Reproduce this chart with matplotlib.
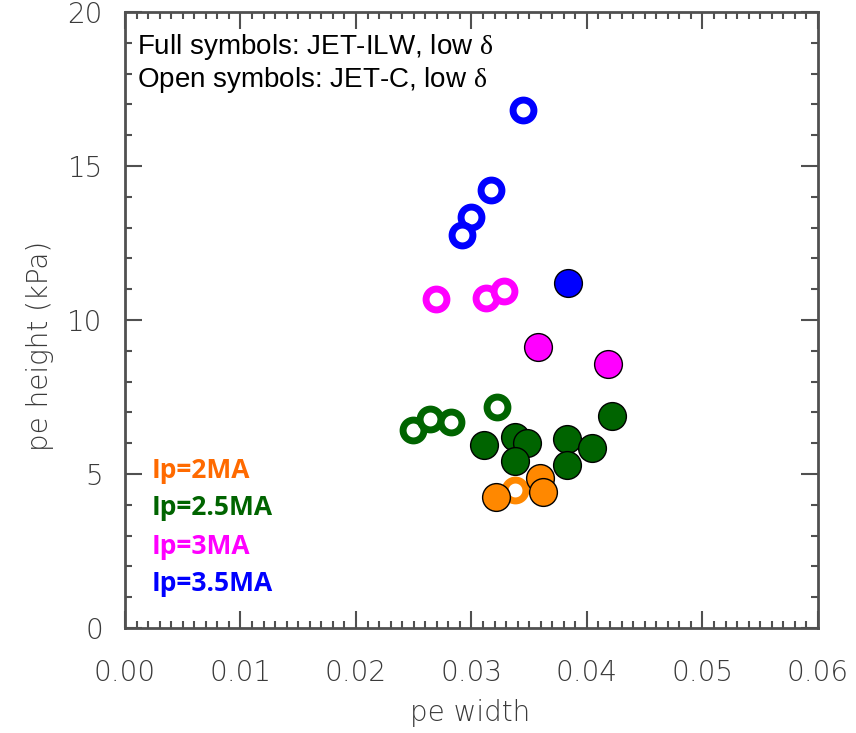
import numpy as np
import matplotlib.pyplot as plt
from matplotlib import rcParams
from matplotlib.ticker import MultipleLocator, FormatStrFormatter

rcParams["mathtext.fontset"] = "custom"
rcParams["mathtext.rm"] = "Liberation Serif"

# pedestal width / height, JET-ILW (full) and JET-C (open)
ilw_2MA_w = [0.0321, 0.0359, 0.0362]
ilw_2MA_h = [4.25, 4.87, 4.42]
c_2MA_w = [0.0338]
c_2MA_h = [4.48]

ilw_25MA_w = [0.0311, 0.0338, 0.0348, 0.0338, 0.0383, 0.0404, 0.0383, 0.0422]
ilw_25MA_h = [5.94, 6.20, 6.01, 5.42, 6.14, 5.84, 5.29, 6.88]
c_25MA_w = [0.0249, 0.0264, 0.0282, 0.0322]
c_25MA_h = [6.43, 6.79, 6.69, 7.18]

ilw_3MA_w = [0.0358, 0.0418]
ilw_3MA_h = [9.12, 8.57]
c_3MA_w = [0.0269, 0.0313, 0.0328]
c_3MA_h = [10.68, 10.71, 10.94]

ilw_35MA_w = [0.0384]
ilw_35MA_h = [11.20]
c_35MA_w = [0.0345, 0.0317, 0.0300, 0.0292]
c_35MA_h = [16.82, 14.22, 13.34, 12.76]

labels = ["Ip=2MA", "Ip=2.5MA", "Ip=3MA", "Ip=3.5MA"]
label_colors = ["#ff6a00", "#006400", "#ff00ff", "#0000ff"]
point_colors = ["#ff8800", "#006400", "#ff00ff", "#0000ff"]

full_sets = [(ilw_2MA_w, ilw_2MA_h), (ilw_25MA_w, ilw_25MA_h),
             (ilw_3MA_w, ilw_3MA_h), (ilw_35MA_w, ilw_35MA_h)]
open_sets = [(c_2MA_w, c_2MA_h), (c_25MA_w, c_25MA_h),
             (c_3MA_w, c_3MA_h), (c_35MA_w, c_35MA_h)]

axis_col = "#505050"
txt_col = "#3a3a3a"

fig = plt.figure(figsize=(8.56, 7.33), dpi=100)
ax = fig.add_axes([0.146, 0.1432, 0.8095, 0.8405])

for (w, h), col in zip(open_sets, point_colors):
    ax.plot(w, h, "o", ms=15, mfc="white", mec=col, mew=5, zorder=3)
for (w, h), col in zip(full_sets, point_colors):
    ax.plot(w, h, "o", ms=20, mfc=col, mec="black", mew=1, zorder=4)

ax.set_xlim(0, 0.06)
ax.set_ylim(0, 20)
ax.xaxis.set_major_locator(MultipleLocator(0.01))
ax.xaxis.set_minor_locator(MultipleLocator(0.001))
ax.xaxis.set_major_formatter(FormatStrFormatter("%.2f"))
ax.yaxis.set_major_locator(MultipleLocator(5))
ax.yaxis.set_minor_locator(MultipleLocator(1))
ax.tick_params(which="both", direction="in", top=True, right=True,
               color=axis_col, width=1.5)
ax.tick_params(which="major", length=12, labelsize=20, labelcolor=txt_col)
ax.tick_params(which="minor", length=5)
ax.tick_params(axis="x", which="major", pad=22)
ax.tick_params(axis="y", which="major", pad=16)
for lab in ax.get_xticklabels() + ax.get_yticklabels():
    lab.set_fontweight("light")
for sp in ax.spines.values():
    sp.set_color(axis_col)
    sp.set_linewidth(2)

ax.set_xlabel("pe width", fontsize=20, color=txt_col, fontweight="light",
              va="center")
ax.set_ylabel("pe height (kPa)", fontsize=20, color=txt_col,
              fontweight="light", va="center")
ax.xaxis.set_label_coords(0.498, -0.138)
ax.yaxis.set_label_coords(-0.123, 0.458)

ax.text(0.001, 18.86, r"Full symbols: JET-ILW, low $\mathrm{\delta}$",
        fontsize=20, family="Liberation Sans", va="center", ha="left")
ax.text(0.001, 17.79, r"Open symbols: JET-C, low $\mathrm{\delta}$",
        fontsize=20, family="Liberation Sans", va="center", ha="left")

label_y = [5.13, 3.90, 2.66, 1.43]
for lab, col, yy in zip(labels, label_colors, label_y):
    ax.text(0.0023, yy, lab, color=col, fontsize=19, fontweight="bold",
            family="Open Sans", va="center", ha="left")

plt.savefig("out.png", dpi=100)
